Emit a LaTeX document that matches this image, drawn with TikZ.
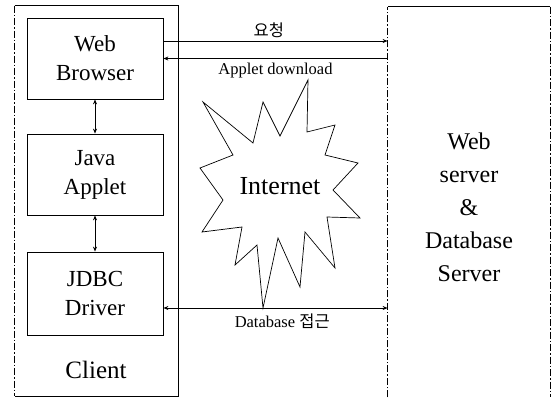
\documentclass[tikz,border=0pt]{standalone}
\usepackage{fontspec}
\setmainfont{Liberation Serif}
\newfontfamily\krfont{Noto Sans CJK KR}
\usetikzlibrary{arrows.meta,calc}
\begin{document}
\begin{tikzpicture}[x=1pt,y=-1pt, line width=0.8pt,
 box/.style={draw, minimum width=136pt, align=center, font=\fontsize{23}{29}\selectfont, inner sep=0pt},
 big/.style={font=\fontsize{23}{33}\selectfont, align=center},
 lbl/.style={font=\fontsize{16.5}{19}\selectfont, inner sep=3pt},
 arr/.style={-{Stealth[length=5pt,width=4pt]}},
 darr/.style={{Stealth[length=5pt,width=4pt]}-{Stealth[length=5pt,width=4pt]}},
 dd/.style={dash pattern=on 7pt off 2pt on 1.5pt off 2pt},
 burst/.style={line width=0.7pt, line join=miter}]
\useasboundingbox (0,0) rectangle (552,397);

% client side
\node[minimum width=163pt, minimum height=390pt, inner sep=0pt] (client) at (96.5,201) {};
\draw (client.north west) -- (client.north east) -- (client.south east) -- (client.south west);
\draw[dd] (client.north west) -- (client.south west);

\node[box, minimum height=81pt] (wb) at (95,58.5) {Web\\Browser};
\node[box, minimum height=81pt] (ja) at (95,174.5) {Java\\Applet};
\node[box, minimum height=83pt] (jd) at (95,293.5) {JDBC\\Driver};
\node[big, font=\fontsize{25}{30}\selectfont] (cl) at (96,370) {Client};

\draw[darr] (wb.south) -- (ja.north);
\draw[darr] (ja.south) -- (jd.north);

% server side
\node[minimum width=162pt, minimum height=390pt, inner sep=0pt] (srv) at (469,202) {};
\draw[dd] (srv.south west) -- (srv.north west);
\draw (srv.north west) -- (srv.north east);
\draw[dd] (srv.north east) -- (srv.south east);
\node[big, font=\fontsize{24}{33}\selectfont] (st) at (469,207) {Web\\server\\\&\\Database\\Server};

% internet
\draw[burst] (263,308) -- (257,245) -- (235,265) -- (242,227) -- (202,232) -- (223,200)
  -- (200,168) -- (233,155) -- (203,102) -- (253,143) -- (263,102) -- (280,136)
  -- (308,80) -- (307,132) -- (335,125) -- (325,155) -- (358,163) -- (333,190)
  -- (360,218) -- (327,217) -- (335,268) -- (305,232) -- (300,287) -- (278,238) -- cycle;
\node[font=\fontsize{26}{30}\selectfont] (inet) at (280,186) {Internet};

% connectors
\coordinate (rq) at ([yshift=17.5pt]wb.east);
\draw[arr] (rq) -- (rq -| srv.west) node[lbl, pos=0.47, above] {\krfont 요청};
\draw[arr] (srv.west |- wb.east) -- (wb.east) node[lbl, pos=0.5, below, yshift=-1pt] {Applet download};
\coordinate (db) at ([yshift=-14.5pt]jd.east);
\draw[darr] (db) -- (db -| srv.west) node[lbl, pos=0.53, below, yshift=-2pt] {Database \krfont 접근};
\end{tikzpicture}
\end{document}
